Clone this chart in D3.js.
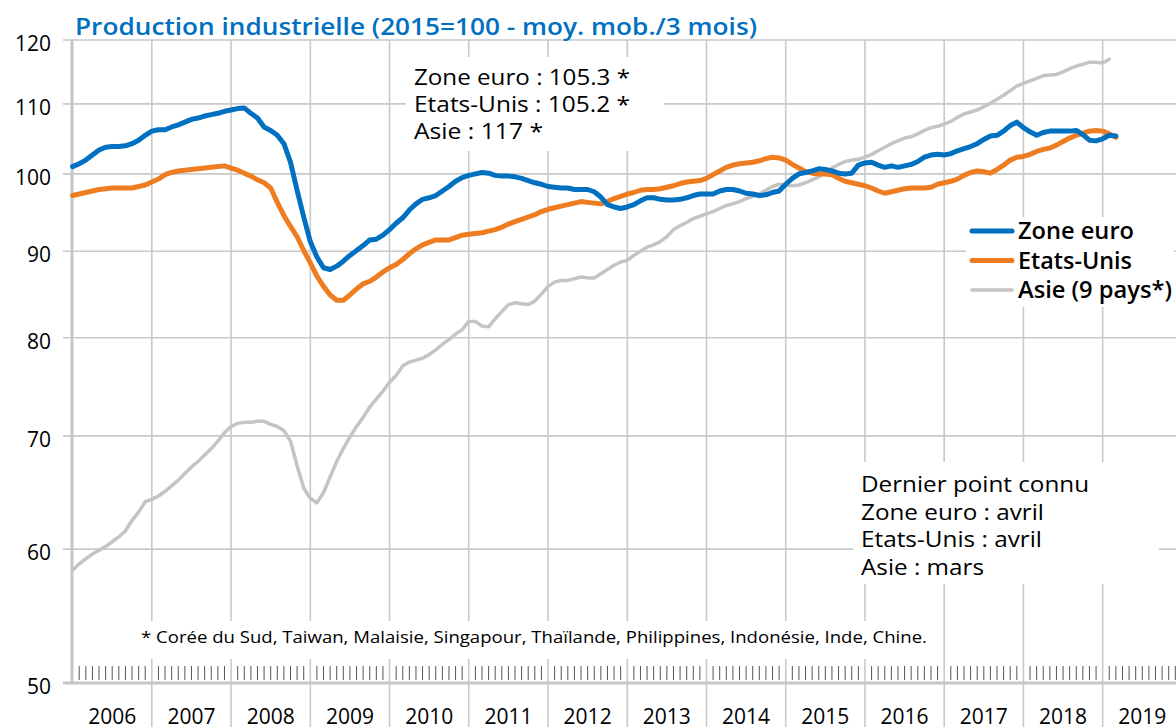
<!DOCTYPE html>
<html><head><meta charset="utf-8">
<script src="https://cdn.jsdelivr.net/npm/d3@7"></script>
<style>body{margin:0;background:#fff}svg{display:block}</style>
</head><body>
<svg id="chart" width="1176" height="727"></svg>
<script>
// ---------- DATA (monthly, 3-month moving average, 2015=100) ----------
const firstYear = 2006;
const yearLabels = ["2006","2007","2008","2009","2010","2011","2012","2013","2014","2015","2016","2017","2018","2019"];
const yTickValues = [50, 60, 70, 80, 90, 100, 110, 120];

const zoneEuro = [
  101.0,101.4,101.9,102.6,103.3,103.7,103.8,103.8,103.9,104.2,104.7,105.4,
  106.0,106.2,106.2,106.6,106.9,107.3,107.7,107.9,108.2,108.4,108.6,108.9,
  109.1,109.3,109.4,108.6,107.9,106.6,106.1,105.4,104.2,101.6,97.8,94.3,
  91.2,89.3,88.0,87.8,88.2,88.8,89.5,90.1,90.7,91.4,91.5,92.0,
  92.7,93.5,94.2,95.2,96.0,96.6,96.8,97.1,97.7,98.3,99.0,99.5,
  99.8,100.0,100.2,100.1,99.8,99.7,99.7,99.6,99.4,99.1,98.8,98.6,
  98.3,98.2,98.1,98.1,97.9,97.9,97.9,97.6,96.9,95.9,95.6,95.4,
  95.6,95.9,96.4,96.8,96.8,96.6,96.5,96.5,96.6,96.8,97.1,97.3,
  97.3,97.3,97.7,97.9,97.9,97.7,97.4,97.3,97.1,97.2,97.5,97.7,
  98.6,99.4,100.0,100.2,100.4,100.7,100.6,100.4,100.1,100.0,100.1,101.2,
  101.5,101.6,101.2,100.9,101.1,100.9,101.1,101.3,101.7,102.3,102.6,102.7,
  102.6,102.8,103.2,103.5,103.8,104.2,104.8,105.3,105.4,106.0,106.8,107.3,
  106.5,105.9,105.4,105.8,106.0,106.0,106.0,106.0,106.1,105.5,104.7,104.6,
  104.9,105.4,105.3
];
const etatsUnis = [
  97.1,97.3,97.5,97.7,97.9,98.0,98.1,98.1,98.1,98.1,98.3,98.5,
  98.9,99.3,99.9,100.2,100.4,100.5,100.6,100.7,100.8,100.9,101.0,101.1,
  100.8,100.5,100.1,99.7,99.2,98.8,98.1,96.2,94.5,93.1,91.8,90.1,
  88.6,87.0,85.8,84.8,84.2,84.2,84.8,85.5,86.1,86.4,86.9,87.5,
  88.0,88.4,89.0,89.7,90.3,90.8,91.1,91.4,91.4,91.4,91.7,92.0,
  92.1,92.2,92.3,92.5,92.7,93.0,93.4,93.7,94.0,94.3,94.6,95.0,
  95.3,95.5,95.7,95.9,96.1,96.3,96.2,96.1,96.0,96.3,96.7,97.0,
  97.3,97.5,97.8,97.9,97.9,98.0,98.2,98.4,98.7,98.9,99.0,99.1,
  99.4,99.9,100.4,100.9,101.2,101.4,101.5,101.6,101.8,102.1,102.3,102.2,
  101.9,101.3,100.8,100.3,100.1,100.0,100.0,99.9,99.4,99.0,98.8,98.6,
  98.4,98.1,97.7,97.4,97.6,97.8,98.0,98.1,98.1,98.1,98.2,98.6,
  98.8,99.0,99.3,99.8,100.2,100.4,100.3,100.1,100.6,101.2,101.9,102.3,
  102.4,102.7,103.1,103.4,103.6,104.0,104.5,105.0,105.4,105.7,106.0,106.1,
  106.0,105.6,105.1
];
const asie = [
  58.3,58.8,59.2,59.6,59.9,60.2,60.6,61.0,61.5,62.4,63.1,64.0,
  64.2,64.5,64.9,65.4,65.9,66.5,67.1,67.6,68.2,68.8,69.5,70.3,
  70.9,71.2,71.3,71.3,71.4,71.4,71.1,70.9,70.5,69.5,67.2,65.2,
  64.3,63.9,64.8,66.2,67.6,68.8,69.9,70.9,71.8,72.8,73.6,74.4,
  75.3,76.0,77.0,77.4,77.6,77.8,78.2,78.7,79.3,79.8,80.4,80.9,
  81.8,81.8,81.3,81.2,82.1,82.9,83.7,83.9,83.8,83.7,84.1,84.9,
  85.8,86.3,86.5,86.5,86.7,86.9,86.8,86.8,87.3,87.8,88.3,88.7,
  88.9,89.5,90.0,90.5,90.8,91.2,91.8,92.7,93.2,93.6,94.1,94.4,
  94.7,95.0,95.4,95.8,96.0,96.3,96.7,97.0,97.3,97.8,98.3,98.6,
  98.5,98.4,98.5,98.8,99.2,99.6,100.2,100.8,101.3,101.7,101.9,102.0,
  102.3,102.7,103.2,103.7,104.2,104.6,105.0,105.2,105.6,106.1,106.5,106.7,
  107.0,107.4,108.0,108.5,108.8,109.1,109.6,110.1,110.7,111.3,112.0,112.7,
  113.1,113.5,113.9,114.3,114.4,114.5,114.9,115.4,115.8,116.1,116.4,116.4,
  116.3,116.9
];

const seriesNames = ["Zone euro", "Etats-Unis", "Asie (9 pays*)"];
const titleText = "Production industrielle (2015=100 - moy. mob./3 mois)";
const lastValuesText = ["Zone euro : 105.3 *", "Etats-Unis : 105.2 *", "Asie : 117 *"];
const lastPointText = ["Dernier point connu", "Zone euro : avril", "Etats-Unis : avril", "Asie : mars"];
const footnoteText = "* Corée du Sud, Taiwan, Malaisie, Singapour, Thaïlande, Philippines, Indonésie, Inde, Chine.";

// ---------- LAYOUT ----------
const FONT = "'Open Sans', Lato, sans-serif";
const colors = ["#0070C0", "#EE7D22", "#C4C4C4"];
const widths = [5, 5, 3.5];
const nMonths = yearLabels.length * 12;

const svg = d3.select("#chart");
const x = d3.scaleLinear().domain([0, nMonths]).range([72.6, 72.6 + nMonths * 6.603]);
const y = d3.scaleLog().domain([50, 120]).range([683, 40]);

const grid = svg.append("g");
grid.selectAll("line.h").data(yTickValues.filter(v => v > 50)).join("line")
  .attr("x1", 63).attr("x2", 1176)
  .attr("y1", d => y(d)).attr("y2", d => y(d))
  .attr("stroke", "#c9c9c9").attr("stroke-width", 1.6);
const yearIdx = d3.range(1, yearLabels.length + 1).map(k => k * 12);
grid.selectAll("line.v").data(yearIdx).join("line")
  .attr("x1", d => x(d)).attr("x2", d => x(d))
  .attr("y1", 40).attr("y2", 727)
  .attr("stroke", "#c9c9c9").attr("stroke-width", 1.6);

// white boxes behind annotations (hide gridlines)
const boxes = [
  [406, 57, 258, 94],
  [853, 462, 306, 122],
  [134, 621, 798, 38],
  [966, 217, 208, 90]
];
svg.append("g").selectAll("rect").data(boxes).join("rect")
  .attr("x", d => d[0]).attr("y", d => d[1]).attr("width", d => d[2]).attr("height", d => d[3])
  .attr("fill", "#fff");

// minor monthly ticks
const minor = d3.range(1, nMonths).filter(m => m % 12 !== 0);
svg.append("g").selectAll("line").data(minor).join("line")
  .attr("x1", d => x(d)).attr("x2", d => x(d))
  .attr("y1", 666).attr("y2", 680)
  .attr("stroke", "#555").attr("stroke-width", 1);

// axis lines
svg.append("line").attr("x1", 63).attr("x2", 1176).attr("y1", 683).attr("y2", 683)
  .attr("stroke", "#c6c6c6").attr("stroke-width", 3);
svg.append("line").attr("x1", 72).attr("x2", 72).attr("y1", 40).attr("y2", 683)
  .attr("stroke", "#c6c6c6").attr("stroke-width", 3);

// y tick labels
svg.append("g").selectAll("text").data(yTickValues).join("text")
  .attr("x", 51).attr("y", d => y(d) + 3)
  .attr("text-anchor", "end").attr("dominant-baseline", "central")
  .attr("font-family", FONT).attr("font-size", 21).attr("fill", "#000")
  .text(d => d);

// x year labels
svg.append("g").selectAll("text").data(yearLabels).join("text")
  .attr("x", (d, i) => x(i * 12 + 6)).attr("y", 724)
  .attr("text-anchor", "middle")
  .attr("font-family", FONT).attr("font-size", 21).attr("fill", "#000")
  .text(d => d);

// series lines
const line = d3.line().x((d, i) => x(i)).y(d => y(d)).curve(d3.curveLinear);
const allSeries = [asie, etatsUnis, zoneEuro];
const order = [2, 1, 0];
svg.append("g").selectAll("path").data(allSeries).join("path")
  .attr("d", d => line(d))
  .attr("fill", "none")
  .attr("stroke", (d, i) => colors[order[i]])
  .attr("stroke-width", (d, i) => widths[order[i]])
  .attr("stroke-linejoin", "round").attr("stroke-linecap", "round");

// title
svg.append("text").attr("x", 75).attr("y", 35)
  .attr("font-family", FONT).attr("font-size", 24).attr("font-weight", 600)
  .attr("textLength", 682).attr("lengthAdjust", "spacingAndGlyphs")
  .attr("fill", "#0070C0").text(titleText);

// last values annotation
const lvWidths = [216, 216, 129];
svg.append("g").selectAll("text").data(lastValuesText).join("text")
  .attr("x", 414).attr("y", (d, i) => 85 + i * 27)
  .attr("font-family", FONT).attr("font-size", 22).attr("fill", "#000")
  .attr("textLength", (d, i) => lvWidths[i]).attr("lengthAdjust", "spacingAndGlyphs")
  .text(d => d);

// last known point annotation
const lpWidths = [228, 183, 181, 123];
svg.append("g").selectAll("text").data(lastPointText).join("text")
  .attr("x", 861).attr("y", (d, i) => 492 + i * 27.5)
  .attr("font-family", FONT).attr("font-size", 22).attr("fill", "#000")
  .attr("textLength", (d, i) => lpWidths[i]).attr("lengthAdjust", "spacingAndGlyphs")
  .text(d => d);

// footnote
svg.append("text").attr("x", 141).attr("y", 643)
  .attr("font-family", FONT).attr("font-size", 17).attr("fill", "#000")
  .attr("textLength", 786).attr("lengthAdjust", "spacingAndGlyphs")
  .text(footnoteText);

// legend
const lgWidths = [116, 114, 154];
const lg = svg.append("g");
lg.selectAll("line").data(seriesNames).join("line")
  .attr("x1", 972).attr("x2", 1012)
  .attr("y1", (d, i) => 231 + i * 29.5).attr("y2", (d, i) => 231 + i * 29.5)
  .attr("stroke", (d, i) => colors[i]).attr("stroke-width", (d, i) => widths[i])
  .attr("stroke-linecap", "round");
lg.selectAll("text").data(seriesNames).join("text")
  .attr("x", 1018).attr("y", (d, i) => 239 + i * 29.5)
  .attr("font-family", FONT).attr("font-size", 23).attr("font-weight", 600).attr("fill", "#000")
  .attr("textLength", (d, i) => lgWidths[i]).attr("lengthAdjust", "spacingAndGlyphs")
  .text(d => d);
</script>
</body></html>
